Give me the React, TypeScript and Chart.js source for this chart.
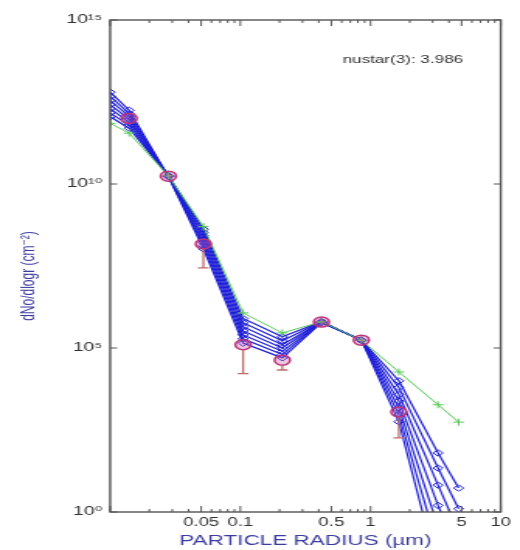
import React, { useEffect, useRef } from 'react';
import { Chart, registerables } from 'chart.js';

Chart.register(...registerables);

// The reference figure is horizontally stretched; draw on a narrower canvas and stretch it by CSS.
const STRETCH = 1.55;
const CANVAS_W = Math.round(520 / STRETCH);
const CANVAS_H = 550;
const PLOT_LEFT = 110 / STRETCH;
const PLOT_RIGHT = 500 / STRETCH;

const FONT = "'Liberation Sans', Arial, 'DejaVu Sans', sans-serif";

// Model radii (µm) and log10 of dN/dlogr for each model curve
const modelX = [0.01, 0.014, 0.028, 0.052, 0.105, 0.21, 0.42, 0.85, 1.65, 3.3, 4.75];
const greenLog = [11.85, 11.55, 10.25, 8.7, 6.07, 5.46, 5.8, 5.24, 4.27, 3.27, 2.74];
const blue1Log = [12.05, 11.7, 10.25, 8.62, 5.9, 5.34, 5.8, 5.24, 4.0, 1.8, 0.73];
const blue2Log = [12.17, 11.79, 10.25, 8.52, 5.77, 5.22, 5.8, 5.24, 3.8, 1.34, 0.1];
const blue3Log = [12.3, 11.88, 10.24, 8.42, 5.65, 5.1, 5.79, 5.24, 3.58, 0.82, -0.6];
const blue4Log = [12.42, 11.97, 10.24, 8.32, 5.52, 5.0, 5.79, 5.24, 3.38, 0.2, -1.3];
const blue5Log = [12.55, 12.06, 10.24, 8.22, 5.4, 4.9, 5.78, 5.24, 3.18, -0.45, -2.0];
const blue6Log = [12.67, 12.15, 10.23, 8.12, 5.28, 4.8, 5.78, 5.24, 2.97, -1.1, -2.8];
const blue7Log = [12.8, 12.25, 10.23, 8.02, 5.15, 4.7, 5.77, 5.24, 2.75, -1.8, -3.6];

// Measured data (radius µm, log10 value, log10 of lower error bar end)
const dataX = [0.014, 0.028, 0.052, 0.105, 0.21, 0.42, 0.85, 1.65];
const dataLog = [12.0, 10.24, 8.17, 5.1, 4.63, 5.79, 5.24, 3.05];
const errLowLog = [11.9, 10.18, 7.44, 4.22, 4.33, 5.74, 5.2, 2.26];

// Axis ticks
const xTickVals = [0.05, 0.1, 0.5, 1, 5, 10];
const xTickLabels = ['0.05', '0.1', '0.5', '1', '5', '10'];
const yTickVals = [1, 1e5, 1e10, 1e15];
const yTickLabels = ['10⁰', '10⁵', '10¹⁰', '10¹⁵'];

const annotationText = 'nustar(3): 3.986';
const annotationX = 0.61;
const annotationY = 6e13;

const BLUE = 'rgb(30,30,215)';
const GREEN = 'rgb(90,200,90)';
const MEAS = 'rgb(190,50,120)';
const ERR = 'rgb(190,110,110)';

const toPts = (logs: number[]) => modelX.map((x, i) => ({ x, y: Math.pow(10, logs[i]) }));

const decorPlugin = {
  id: 'decor',
  afterDatasetsDraw(chart: any) {
    const { ctx, chartArea: a, scales } = chart;
    const xs = scales.x;
    const ys = scales.y;
    ctx.save();
    // error bars
    ctx.strokeStyle = ERR;
    ctx.lineWidth = 1.3;
    dataX.forEach((xv, i) => {
      const px = xs.getPixelForValue(xv);
      const py = ys.getPixelForValue(Math.pow(10, dataLog[i]));
      const pl = ys.getPixelForValue(Math.pow(10, errLowLog[i]));
      if (pl - py > 5) {
        ctx.beginPath();
        ctx.moveTo(px, py + 5);
        ctx.lineTo(px, pl);
        ctx.moveTo(px - 3.5, pl);
        ctx.lineTo(px + 3.5, pl);
        ctx.stroke();
      }
    });
    // box
    ctx.strokeStyle = '#555';
    ctx.lineWidth = 1.4;
    ctx.strokeRect(a.left, a.top, a.right - a.left, a.bottom - a.top);
    // x ticks (log minor + labelled)
    ctx.lineWidth = 1;
    ctx.beginPath();
    const decades = [0.01, 0.1, 1];
    const xt: number[] = [];
    decades.forEach((d) => { for (let m = 1; m <= 9; m++) xt.push(d * m); });
    xt.push(10);
    xt.forEach((v) => {
      const px = xs.getPixelForValue(v);
      if (px < a.left - 0.5 || px > a.right + 0.5) return;
      const big = xTickVals.some((t) => Math.abs(t - v) < 1e-9) || [0.01, 0.1, 1, 10].some((t) => Math.abs(t - v) < 1e-9);
      const len = big ? 6 : 3;
      ctx.moveTo(px, a.bottom);
      ctx.lineTo(px, a.bottom - len);
      ctx.moveTo(px, a.top);
      ctx.lineTo(px, a.top + len);
    });
    yTickVals.forEach((v) => {
      const py = ys.getPixelForValue(v);
      ctx.moveTo(a.left, py);
      ctx.lineTo(a.left + 4.5, py);
      ctx.moveTo(a.right, py);
      ctx.lineTo(a.right - 4.5, py);
    });
    ctx.stroke();
    // annotation
    ctx.fillStyle = '#333';
    ctx.font = `11px ${FONT}`;
    ctx.textBaseline = 'middle';
    ctx.textAlign = 'left';
    ctx.fillText(annotationText, xs.getPixelForValue(annotationX), ys.getPixelForValue(annotationY));
    ctx.restore();
  },
};

export default function App() {
  const ref = useRef<HTMLCanvasElement>(null);
  useEffect(() => {
    const canvas = ref.current;
    if (!canvas) return;
    const blueSets = [blue1Log, blue2Log, blue3Log, blue4Log, blue5Log, blue6Log, blue7Log].map((arr, k) => ({
      label: `model ${k + 1}`,
      data: toPts(arr),
      showLine: true,
      borderColor: BLUE,
      borderWidth: 1.2,
      pointStyle: 'rectRot',
      pointRadius: 3.2,
      pointBorderColor: BLUE,
      pointBackgroundColor: 'rgba(0,0,0,0)',
      pointBorderWidth: 1,
      order: 3,
      clip: 0,
    }));
    const chart = new Chart(canvas, {
      type: 'scatter',
      data: {
        datasets: [
          {
            label: 'measured',
            data: dataX.map((x, i) => ({ x, y: Math.pow(10, dataLog[i]) })),
            showLine: false,
            pointStyle: 'circle',
            pointRadius: 5,
            borderColor: MEAS,
            backgroundColor: 'rgba(200,90,160,0.35)',
            borderWidth: 1.5,
            order: 0,
          },
          {
            label: 'green',
            data: toPts(greenLog),
            showLine: true,
            borderColor: GREEN,
            borderWidth: 1,
            pointStyle: 'cross',
            pointRadius: 3.5,
            pointBorderColor: GREEN,
            pointBorderWidth: 1,
            order: 1,
            clip: 0,
          },
          ...blueSets,
        ] as any,
      },
      options: {
        responsive: false,
        animation: false,
        devicePixelRatio: 1,
        events: [],
        layout: { padding: { top: 20, right: CANVAS_W - PLOT_RIGHT, left: 0, bottom: 0 } },
        plugins: { legend: { display: false }, tooltip: { enabled: false } },
        scales: {
          x: {
            type: 'logarithmic',
            position: 'bottom',
            min: 0.01,
            max: 10,
            grid: { display: false, drawTicks: false },
            border: { display: false },
            afterBuildTicks: (s: any) => { s.ticks = xTickVals.map((v) => ({ value: v })); },
            afterFit: (s: any) => { s.height = CANVAS_H - 512; },
            ticks: {
              autoSkip: false,
              maxRotation: 0,
              minRotation: 0,
              padding: 3,
              color: '#333',
              font: { family: FONT, size: 12 },
              callback: (v: any) => { const i = xTickVals.indexOf(Number(v)); return i >= 0 ? xTickLabels[i] : ''; },
            },
            title: {
              display: true,
              text: 'PARTICLE RADIUS (µm)',
              color: 'rgb(60,60,160)',
              font: { family: FONT, size: 14.5 },
              padding: { top: 0, bottom: 0 },
            },
          },
          y: {
            type: 'logarithmic',
            position: 'left',
            min: 1,
            max: 1e15,
            grid: { display: false, drawTicks: false },
            border: { display: false },
            afterBuildTicks: (s: any) => { s.ticks = yTickVals.map((v) => ({ value: v })); },
            afterFit: (s: any) => { s.width = PLOT_LEFT; },
            ticks: {
              autoSkip: false,
              padding: 5,
              color: '#333',
              font: { family: FONT, size: 12.5 },
              callback: (v: any) => { const i = yTickVals.indexOf(Number(v)); return i >= 0 ? yTickLabels[i] : ''; },
            },
            title: {
              display: true,
              text: 'dNo/dlogr (cm⁻²)\u00a0\u00a0\u00a0\u00a0\u00a0\u00a0',
              color: 'rgb(60,60,160)',
              font: { family: FONT, size: 12 },
              padding: { top: 11, bottom: 0 },
            },
          },
        },
      } as any,
      plugins: [decorPlugin],
    });
    return () => chart.destroy();
  }, []);
  return (
    <div style={{ position: 'absolute', left: 0, top: 0, width: 520, height: 550, background: '#fff' }}>
      <canvas
        ref={ref}
        width={CANVAS_W}
        height={CANVAS_H}
        style={{ width: '520px', height: '550px', display: 'block' }}
      />
    </div>
  );
}
